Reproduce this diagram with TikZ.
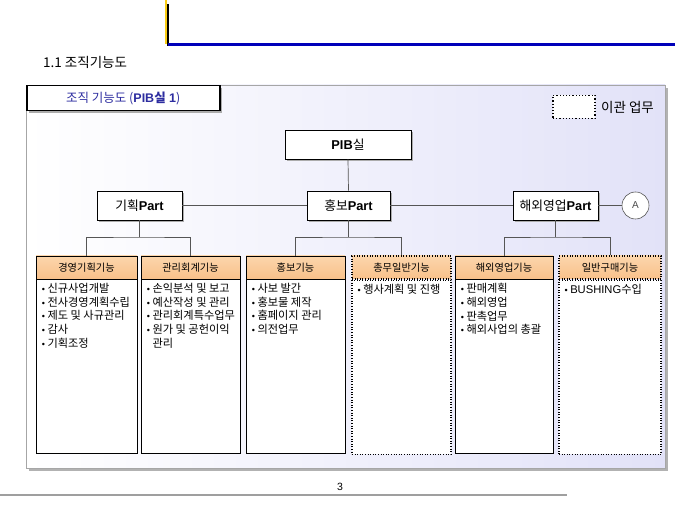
\documentclass[tikz,border=0pt]{standalone}
\usepackage{fontspec}
\setmainfont{Noto Sans CJK KR}
\newfontfamily\lat{Liberation Sans}
\usetikzlibrary{shadows}
\definecolor{hdrtop}{RGB}{252,214,172}
\definecolor{hdrbot}{RGB}{248,192,138}
\definecolor{lav}{RGB}{226,226,248}
\definecolor{ttl}{RGB}{45,45,160}
\definecolor{conncol}{RGB}{85,85,85}
\definecolor{bluebar}{RGB}{0,0,185}
\definecolor{yellowbar}{RGB}{250,205,20}
\newcommand{\bul}{{\lat\small•}\hspace{2.5pt}}
\begin{document}
\begin{tikzpicture}[x=1pt,y=-1pt,
  shadowed/.style={drop shadow={shadow xshift=2pt,shadow yshift=-2pt,fill=gray!65,opacity=1}},
  partbox/.style={draw=black,fill=white,line width=0.6pt,inner sep=0pt,minimum height=29pt,shadowed,font=\fontsize{12.8}{14}\selectfont},
  hdrbox/.style={draw=black,line width=0.6pt,inner sep=0pt,minimum height=23pt,top color=hdrtop,bottom color=hdrbot,font=\fontsize{10.2}{12}\selectfont},
  hdrdot/.style={hdrbox,dotted,line width=1.2pt},
  bodybox/.style={draw=black,fill=white,line width=0.6pt,inner sep=0pt,minimum height=174pt},
  bodydot/.style={bodybox,dotted,line width=1.2pt},
  itemtext/.style={anchor=north west,align=left,inner sep=0pt,font=\fontsize{11.2}{13.6}\selectfont},
  conn/.style={draw=conncol,line width=0.7pt}]
\useasboundingbox (0,0) rectangle (680,510);
% top decoration
\fill[yellowbar] (164.5,0) rectangle (167.2,44);
\fill[black] (167,4) rectangle (169.2,46);
\fill[bluebar] (168,43.3) rectangle (675,46.5);
\node[anchor=west,inner sep=0pt,font=\fontsize{13.5}{15}\selectfont] (sec) at (43,62) {1.1 조직기능도};
% panel
\fill[gray!60] (29,88) rectangle (668,471);
\shade[left color=white,right color=lav,draw=gray!70,line width=0.4pt] (26,85) rectangle (665,468);
% title box
\node[draw=black,fill=white,line width=1.5pt,inner sep=0pt,minimum width=193pt,minimum height=25pt,anchor=north west,shadowed,text=ttl,font=\fontsize{12.5}{14}\selectfont] (ttlbox) at (26,85) {조직 기능도 ({\lat\bfseries PIB}{\bfseries 실}{\lat\bfseries\ 1})};
% legend
\node[draw=black,fill=white,dotted,line width=1.2pt,minimum width=42pt,minimum height=23pt,inner sep=0pt] (leg) at (574,107) {};
\node[anchor=west,inner sep=0pt,font=\fontsize{13.5}{15}\selectfont] (legtxt) at (601,107) {이관 업무};
% top and parts
\node[partbox,minimum width=126pt] (pib) at (348,144.5) {{\lat\bfseries PIB}실};
\node[partbox,minimum width=85pt] (p1) at (139.5,205.5) {기획{\lat\bfseries Part}};
\node[partbox,minimum width=83pt] (p2) at (348.5,205.5) {홍보{\lat\bfseries Part}};
\node[partbox,minimum width=85pt] (p3) at (555.5,205.5) {해외영업{\lat\bfseries Part}};
\node[circle,draw=gray!70!black,fill=white,line width=0.6pt,minimum size=27pt,inner sep=0pt,text=gray!60!black,font=\lat\fontsize{10}{11}\selectfont] (A) at (635.5,205.5) {A};
\draw[conn] (pib.south) -- (p2.north);
\draw[conn] (p1.east) -- (p2.west);
\draw[conn] (p2.east) -- (p3.west);
\draw[conn] (p3.east) -- (A.west);
% headers
\node[hdrbox,minimum width=101pt] (h1) at (86.5,267.5) {경영기획기능};
\node[hdrbox,minimum width=99pt] (h2) at (190.5,267.5) {관리회계기능};
\node[hdrbox,minimum width=99pt] (h3) at (295.5,267.5) {홍보기능};
\node[hdrdot,minimum width=99pt] (h4) at (401.5,267.5) {총무일반기능};
\node[hdrbox,minimum width=98pt] (h5) at (504,267.5) {해외영업기능};
\node[hdrdot,minimum width=102pt] (h6) at (610,267.5) {일반구매기능};
% bodies
\node[bodybox,minimum width=101pt,anchor=north] (b1) at (h1.south) {};
\node[bodybox,minimum width=99pt,anchor=north] (b2) at (h2.south) {};
\node[bodybox,minimum width=99pt,anchor=north] (b3) at (h3.south) {};
\node[bodydot,minimum width=99pt,anchor=north] (b4) at (h4.south) {};
\node[bodybox,minimum width=98pt,anchor=north] (b5) at (h5.south) {};
\node[bodydot,minimum width=102pt,anchor=north] (b6) at (h6.south) {};
% connectors to functions
\coordinate (j1) at (139.5,237);
\coordinate (j2) at (348.5,237);
\coordinate (j3) at (555.5,237);
\draw[conn] (p1.south) -- (j1);
\draw[conn] (h1.north) |- (j1) -| (h2.north);
\draw[conn] (p2.south) -- (j2);
\draw[conn] (h3.north) |- (j2) -| (h4.north);
\draw[conn] (p3.south) -- (j3);
\draw[conn] (h5.north) |- (j3) -| (h6.north);
% texts
\node[itemtext] (t1) at ([xshift=6pt,yshift=-4pt]b1.north west) {\bul 신규사업개발\\\bul 전사경영계획수립\\\bul 제도 및 사규관리\\\bul 감사\\\bul 기획조정};
\node[itemtext] (t2) at ([xshift=6pt,yshift=-4pt]b2.north west) {\bul 손익분석 및 보고\\\bul 예산작성 및 관리\\\bul 관리회계특수업무\\\bul 원가 및 공헌이익\\\phantom{\bul}관리};
\node[itemtext] (t3) at ([xshift=6pt,yshift=-4pt]b3.north west) {\bul 사보 발간\\\bul 홍보물 제작\\\bul 홈페이지 관리\\\bul 의전업무};
\node[itemtext] (t4) at ([xshift=6pt,yshift=-4pt]b4.north west) {\bul 행사계획 및 진행};
\node[itemtext] (t5) at ([xshift=6pt,yshift=-4pt]b5.north west) {\bul 판매계획\\\bul 해외영업\\\bul 판촉업무\\\bul 해외사업의 총괄};
\node[itemtext] (t6) at ([xshift=6pt,yshift=-4pt]b6.north west) {\bul {\lat BUSHING}수입};
% footer
\node[inner sep=0pt,font=\lat\fontsize{10.5}{11}\selectfont] (pg) at (340,487) {3};
\draw[gray!75,line width=1.2pt] (0,495) -- (567,495);
\end{tikzpicture}
\end{document}
